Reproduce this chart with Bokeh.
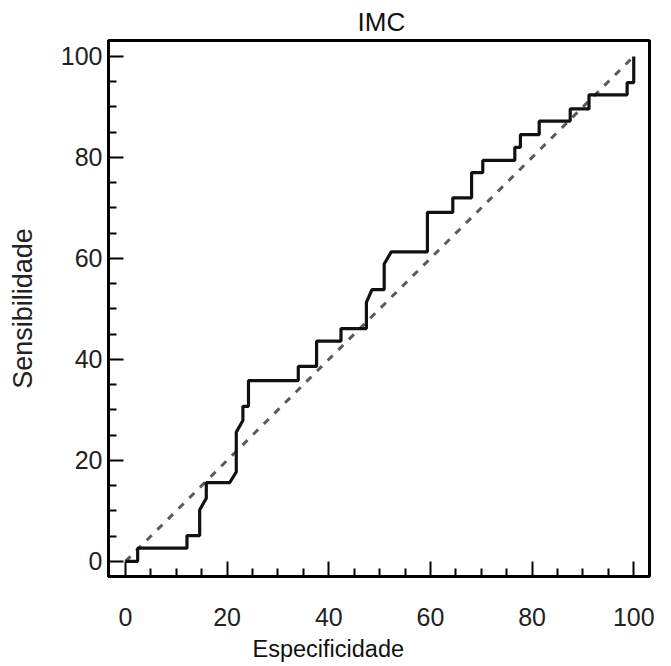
from bokeh.plotting import figure
from bokeh.models import Range1d, Title, FixedTicker
from bokeh.embed import file_html
from bokeh.resources import INLINE

# ROC step curve (Especificidade, Sensibilidade)
spec = [0, 2.4, 2.4, 12.1, 12.1, 14.6, 14.6, 15.9, 15.9, 20.5, 21.8, 21.8, 23.1, 23.1,
        24.2, 24.2, 34.0, 34.0, 37.6, 37.6, 42.4, 42.4, 47.4, 47.4, 48.5, 50.9, 50.9,
        52.3, 59.4, 59.4, 64.4, 64.4, 68.1, 68.1, 70.3, 70.3, 76.6, 76.6, 77.7, 77.7,
        81.4, 81.4, 87.5, 87.5, 91.2, 91.2, 98.7, 98.7, 100, 100]
sens = [0, 0, 2.6, 2.6, 5.1, 5.1, 10.2, 12.5, 15.6, 15.6, 17.7, 25.6, 27.9, 30.7,
        30.7, 35.8, 35.8, 38.6, 38.6, 43.6, 43.6, 46.1, 46.1, 51.3, 53.8, 53.8, 58.9,
        61.3, 61.3, 69.1, 69.1, 72.0, 72.0, 77.0, 77.0, 79.4, 79.4, 82.0, 82.0, 84.5,
        84.5, 87.2, 87.2, 89.6, 89.6, 92.4, 92.4, 94.8, 94.8, 100]

# reference diagonal
diag_x = [0, 100]
diag_y = [0, 100]

major_ticks = [0, 20, 40, 60, 80, 100]
minor_ticks = [5, 10, 15, 25, 30, 35, 45, 50, 55, 65, 70, 75, 85, 90, 95]

title_text = "IMC"
xlabel = "Especificidade"
ylabel = "Sensibilidade"

FONT = "Liberation Sans"

p = figure(width=671, height=666, output_backend="svg", toolbar_location=None,
           x_range=Range1d(-3.34, 103.1), y_range=Range1d(-3.0, 103.15),
           min_border_left=108, min_border_right=22, min_border_top=39,
           min_border_bottom=89)
p.background_fill_color = "white"
p.border_fill_color = "white"
p.outline_line_color = "black"
p.outline_line_width = 3
p.grid.visible = False

p.title.text = title_text
p.title.align = "left"
p.title.offset = 249
p.title.standoff = 8
p.title.text_font = FONT
p.title.text_font_size = "26px"
p.title.text_font_style = "normal"
p.title.text_color = "#111111"

p.line(diag_x, diag_y, line_color="#5a5a5a", line_width=3, line_dash="7 8")
p.line(spec, sens, line_color="#111111", line_width=3.2)

for ax in (p.xaxis[0], p.yaxis[0]):
    ax.ticker = FixedTicker(ticks=major_ticks, minor_ticks=minor_ticks)
    ax.axis_line_width = 3
    ax.axis_line_color = "black"
    ax.major_tick_in = 15
    ax.major_tick_out = 0
    ax.minor_tick_in = 8
    ax.minor_tick_out = 0
    ax.major_tick_line_width = 2
    ax.minor_tick_line_width = 2
    ax.major_tick_line_color = "black"
    ax.minor_tick_line_color = "black"
    ax.major_label_text_font = FONT
    ax.major_label_text_font_size = "25px"
    ax.major_label_text_color = "#222222"

p.xaxis[0].major_label_standoff = 31
p.yaxis[0].major_label_standoff = 6

p.yaxis[0].axis_label = ylabel
p.yaxis[0].axis_label_text_font = FONT
p.yaxis[0].axis_label_text_font_size = "27px"
p.yaxis[0].axis_label_text_font_style = "normal"
p.yaxis[0].axis_label_text_color = "#222222"
p.yaxis[0].axis_label_standoff = 20

xt = Title(text=xlabel, align="left", offset=144, standoff=10,
           text_font=FONT, text_font_size="23.5px", text_font_style="normal",
           text_color="#111111")
p.add_layout(xt, "below")

open("out.html", "w").write(file_html(p, INLINE))
